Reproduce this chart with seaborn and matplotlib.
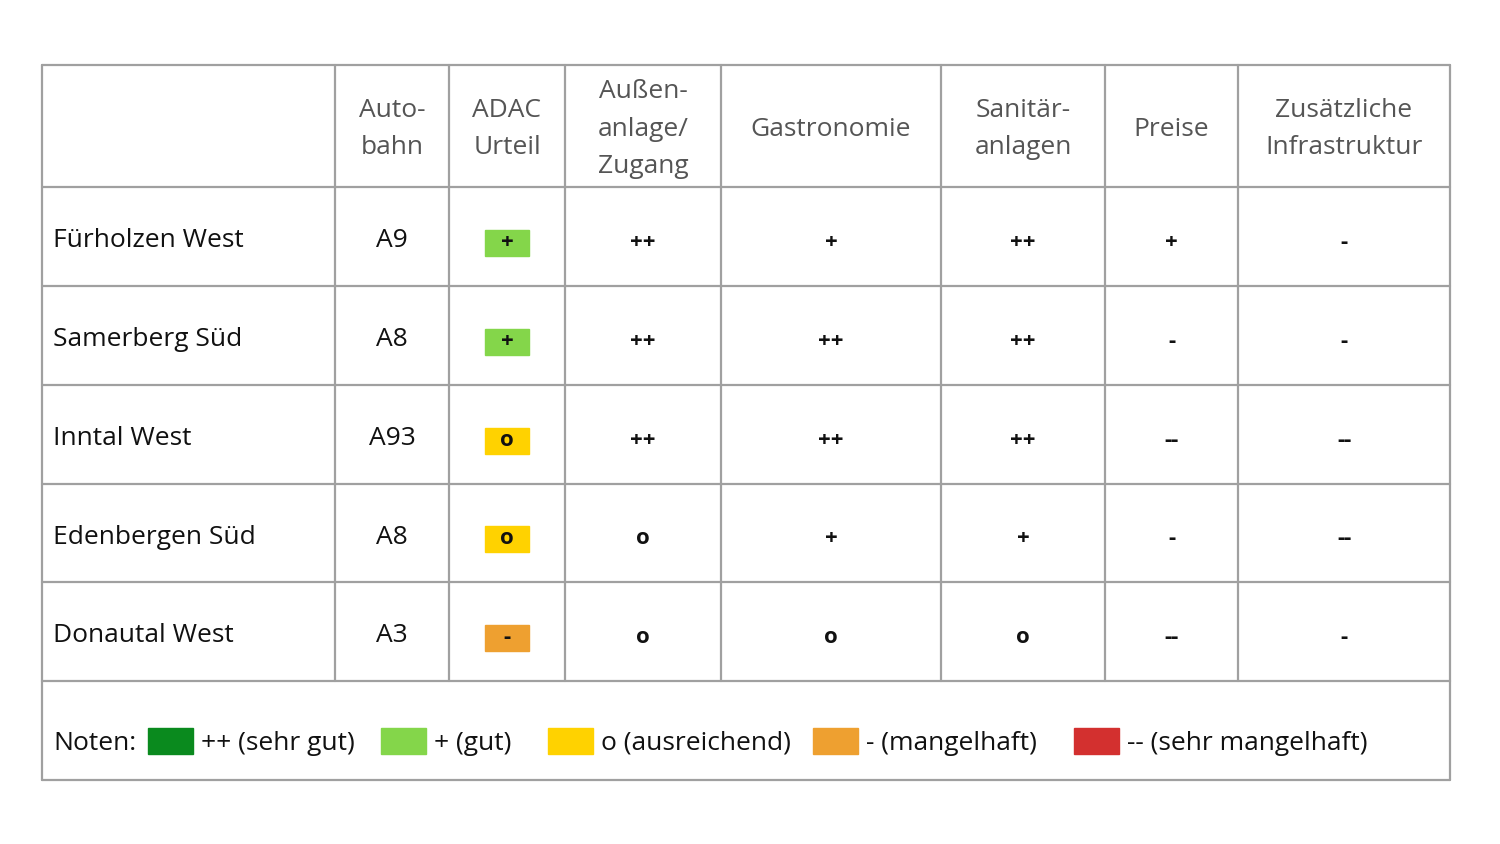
import numpy as np
import matplotlib.pyplot as plt
import matplotlib.patches as patches
import seaborn as sns

# data
headers = ["", "Auto-\nbahn", "ADAC\nUrteil", "Außen-\nanlage/\nZugang", "Gastronomie",
           "Sanitär-\nanlagen", "Preise", "Zusätzliche\nInfrastruktur"]
stations = ["Fürholzen West", "Samerberg Süd", "Inntal West", "Edenbergen Süd", "Donautal West"]
autobahn = ["A9", "A8", "A93", "A8", "A3"]
adac = ["+", "+", "o", "o", "-"]
aussen = ["++", "++", "++", "o", "o"]
gastro = ["+", "++", "++", "+", "o"]
sanitaer = ["++", "++", "++", "+", "o"]
preise = ["+", "-", "--", "-", "--"]
infra = ["-", "-", "--", "--", "-"]
legend_labels = ["++ (sehr gut)", "+ (gut)", "o (ausreichend)", "- (mangelhaft)", "-- (sehr mangelhaft)"]
legend_keys = ["++", "+", "o", "-", "--"]
grade_colors = {"++": "#0a8a1e", "+": "#84d64a", "o": "#ffd200", "-": "#eea030", "--": "#d3302f"}

sns.set_theme(style="white", font="Open Sans")
fig = plt.figure(figsize=(15, 8.44), dpi=100)
ax = fig.add_axes([0, 0, 1, 1])
ax.set_xlim(0, 1500)
ax.set_ylim(844, 0)
ax.axis("off")

xs = [42, 335, 449, 565, 721, 941, 1105, 1238, 1450]
ys = [65, 187, 286, 385, 484, 582, 681, 780]
lc = "#a0a0a0"
for x in xs:
    ax.plot([x, x], [ys[0], ys[-2]], color=lc, lw=1.6)
for x in [xs[0], xs[-1]]:
    ax.plot([x, x], [ys[-2], ys[-1]], color=lc, lw=1.6)
for y in ys:
    ax.plot([xs[0], xs[-1]], [y, y], color=lc, lw=1.6)

cx = [(xs[i] + xs[i + 1]) / 2 for i in range(len(xs) - 1)]
for i, h in enumerate(headers):
    ax.text(cx[i], 129, h, ha="center", va="center", fontsize=19, color="#555555", linespacing=1.65)

cols = [autobahn, adac, aussen, gastro, sanitaer, preise, infra]
for r, name in enumerate(stations):
    yc = (ys[r + 1] + ys[r + 2]) / 2 + 4
    ax.text(53, yc, name, ha="left", va="center", fontsize=19, color="#111111")
    for c, col in enumerate(cols):
        val = col[r]
        if c == 1:
            ax.add_patch(patches.Rectangle((cx[2] - 22, yc - 11), 44, 26, color=grade_colors[val]))
            ax.text(cx[2], yc + 2, val, ha="center", va="center", fontsize=16, fontweight="bold", color="#111111")
        elif c == 0:
            ax.text(cx[1], yc, val, ha="center", va="center", fontsize=19, color="#111111")
        else:
            ax.text(cx[c + 1], yc + 2, val, ha="center", va="center",
                    fontsize=16, fontweight="bold", color="#111111")

# legend
ly = 741
ax.text(53, ly + 2, "Noten:", ha="left", va="center", fontsize=19, color="#111111")
lx = [148, 381, 548, 813, 1074]
for x, k, lab in zip(lx, legend_keys, legend_labels):
    ax.add_patch(patches.Rectangle((x, ly - 13), 45, 26, color=grade_colors[k]))
    ax.text(x + 53, ly + 2, lab, ha="left", va="center", fontsize=19, color="#111111")

fig.savefig("out.png", dpi=100, facecolor="white")
